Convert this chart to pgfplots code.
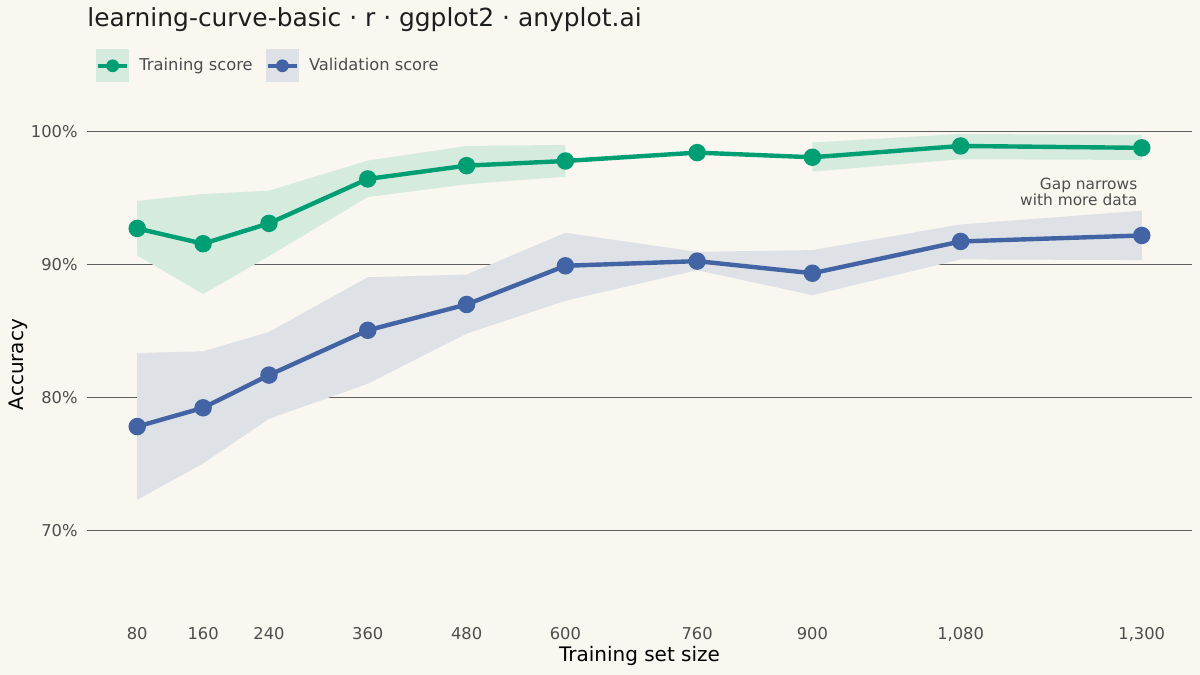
\documentclass[border=0pt]{standalone}
\usepackage{fontspec}
\setmainfont{DejaVu Sans}
\usepackage{pgfplots}
\pgfplotsset{compat=1.18}

\definecolor{bgc}{HTML}{FAF7F1}
\definecolor{train}{HTML}{009E73}
\definecolor{trainband}{HTML}{D5EBDE}
\definecolor{valid}{HTML}{4264A4}
\definecolor{validband}{HTML}{DEE1E5}
\definecolor{gridc}{HTML}{5E5E5E}
\definecolor{tickc}{HTML}{4D4D4D}
\definecolor{labc}{HTML}{1E1E1E}

\begin{document}
\begin{tikzpicture}
\fill[bgc] (-43.5pt,-27.2pt) rectangle (556.5pt,310.3pt);
\begin{axis}[
  scale only axis,
  width=552.5pt, height=256pt,
  xmin=19, xmax=1361,
  ymin=63.25, ymax=101.75,
  axis line style={draw=none},
  tick style={draw=none},
  ymajorgrids,
  grid style={color=gridc, line width=0.6pt},
  xtick={80,160,240,360,480,600,760,900,1080,1300},
  xticklabels={80,160,240,360,480,600,760,900,{1,080},{1,300}},
  ytick={70,80,90,100},
  yticklabels={70\%,80\%,90\%,100\%},
  tick label style={font=\fontsize{8.15}{10}\selectfont, text=tickc},
  xticklabel style={anchor=base, inner sep=0pt, yshift=-9.6pt},
  yticklabel style={anchor=east, inner sep=0pt, xshift=-4.5pt},
  xlabel={Training set size},
  ylabel={Accuracy},
  label style={font=\fontsize{10.1}{12}\selectfont, text=labc},
  every axis x label/.style={at={(axis description cs:0.5,-0.0805)}, anchor=base, inner sep=0pt},
  every axis y label/.style={at={(axis description cs:-0.0624,0.5)}, anchor=center, rotate=90, inner sep=0pt},
  legend columns=2,
  legend style={at={(axis description cs:0.00814,1.0836)}, anchor=west,
    draw=none, fill=none, inner sep=0pt, outer sep=0pt,
    font=\fontsize{8.15}{10}\selectfont, text=tickc,
    nodes={inner sep=0pt},
    /tikz/every odd column/.append style={column sep=5pt},
    /tikz/every even column/.append style={column sep=6.5pt}},
  legend cell align=left,
]
% training band (gap between 600 and 900)
\addplot[draw=none, fill=trainband, forget plot] coordinates {
  (80,94.80) (160,95.33) (240,95.58) (360,97.84) (480,98.94) (600,99.02)
  (600,96.63) (480,96.06) (360,95.10) (240,90.66) (160,87.81) (80,90.71)} -- cycle;
\addplot[draw=none, fill=trainband, forget plot] coordinates {
  (900,99.20) (1080,99.85) (1300,99.75)
  (1300,97.89) (1080,97.94) (900,97.01)} -- cycle;
% validation band
\addplot[draw=none, fill=validband, forget plot] coordinates {
  (80,83.37) (160,83.50) (240,84.95) (360,89.07) (480,89.27) (600,92.41)
  (760,90.98) (900,91.11) (1080,93.04) (1300,94.07)
  (1300,90.36) (1080,90.41) (900,87.72) (760,89.60) (600,87.30)
  (480,84.83) (360,81.06) (240,78.42) (160,75.07) (80,72.34)} -- cycle;

\addplot[train, line width=2.2pt, mark=*, mark size=3.25pt,
  legend image code/.code={
    \path[fill=trainband, draw=none] (0pt,-8.25pt) rectangle (16.5pt,8.25pt);
    \draw[train, line width=2.2pt] (1pt,0pt) -- (15.5pt,0pt);
    \path[fill=train, draw=none] (8.25pt,0pt) circle (3.2pt);}]
  coordinates {(80,92.74) (160,91.59) (240,93.12) (360,96.46) (480,97.46)
    (600,97.81) (760,98.44) (900,98.09) (1080,98.94) (1300,98.80)};
\addlegendentry{Training score}

\addplot[valid, line width=2.2pt, mark=*, mark size=3.25pt,
  legend image code/.code={
    \path[fill=validband, draw=none] (0pt,-8.25pt) rectangle (16.5pt,8.25pt);
    \draw[valid, line width=2.2pt] (1pt,0pt) -- (15.5pt,0pt);
    \path[fill=valid, draw=none] (8.25pt,0pt) circle (3.2pt);}]
  coordinates {(80,77.84) (160,79.25) (240,81.71) (360,85.08) (480,87.02)
    (600,89.93) (760,90.28) (900,89.37) (1080,91.76) (1300,92.21)};
\addlegendentry{Validation score}

\node[anchor=east, align=right, inner sep=0pt, text=tickc,
  font=\fontsize{7.7}{8}\selectfont] at (axis cs:1295,95.48)
  {Gap narrows\\with more data};
\end{axis}
\node[anchor=base west, inner sep=0pt, text=labc,
  font=\fontsize{12.45}{14}\selectfont] at (0pt,296.9pt)
  {learning-curve-basic · r · ggplot2 · anyplot.ai};
\pgfresetboundingbox
\path (-43.5pt,-27.2pt) rectangle (556.5pt,310.3pt);
\end{tikzpicture}
\end{document}
